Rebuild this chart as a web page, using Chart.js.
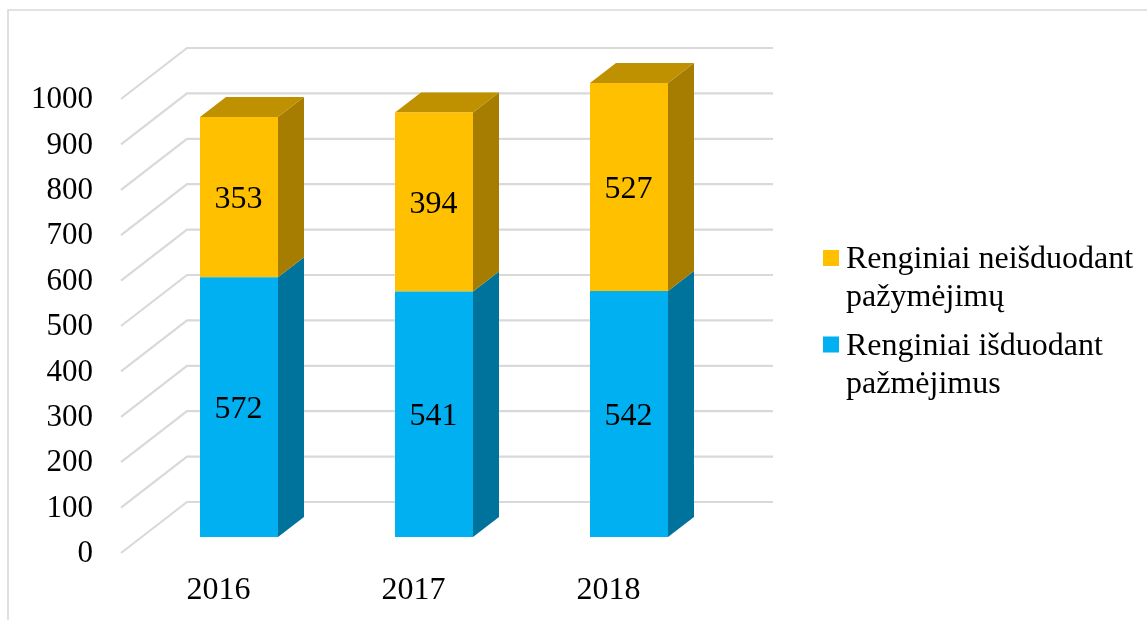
<!DOCTYPE html>
<html>
<head>
<meta charset="utf-8">
<style>
html,body{margin:0;padding:0;background:#fff;overflow:hidden}
canvas{display:block}
</style>
<script src="https://cdn.jsdelivr.net/npm/chart.js@4"></script>
</head>
<body>
<canvas id="c" width="1147" height="620"></canvas>
<script>
const categories = ['2016', '2017', '2018'];
const issuedValues = [572, 541, 542];
const notIssuedValues = [353, 394, 527];
const issuedLabel = ['Renginiai išduodant', 'pažmėjimus'];
const notIssuedLabel = ['Renginiai neišduodant', 'pažymėjimų'];

const FONT = '"Liberation Serif","Times New Roman",serif';
const TXT = '#000000';
const GRID = '#d9d9d9';
const WALL = {dx: 66, dy: -51};      // floor depth, front edge to back wall
const BAR_SHIFT = {dx: 20.5, dy: -16}; // bar front face inside that depth
const BAR_DEPTH = {dx: 26, dy: -20};   // bar's own depth

const threeD = {
  id: 'threeD',
  beforeDatasetsDraw(chart) {
    const {ctx, scales: {x, y}} = chart;
    ctx.save();
    // page frame
    ctx.strokeStyle = GRID; ctx.lineWidth = 1.6;
    ctx.beginPath(); ctx.moveTo(8, 620); ctx.lineTo(8, 10); ctx.lineTo(1147, 10); ctx.stroke();
    // walls
    y.ticks.forEach(t => {
      const py = y.getPixelForValue(t.value);
      ctx.beginPath();
      ctx.moveTo(x.left, py);
      ctx.lineTo(x.left + WALL.dx, py + WALL.dy);
      ctx.lineTo(x.right + WALL.dx + 1, py + WALL.dy);
      ctx.lineWidth = 2.2; ctx.strokeStyle = GRID; ctx.stroke();
    });
    // side and top faces
    chart.data.datasets.forEach((ds, di) => {
      chart.getDatasetMeta(di).data.forEach(bar => {
        const top = Math.max(bar.y, y.top) + BAR_SHIFT.dy;
        const base = bar.base + BAR_SHIFT.dy;
        const l = bar.x - bar.width / 2 + BAR_SHIFT.dx;
        const r = bar.x + bar.width / 2 + BAR_SHIFT.dx;
        ctx.fillStyle = ds.sideColor;
        ctx.beginPath();
        ctx.moveTo(r, top); ctx.lineTo(r + BAR_DEPTH.dx, top + BAR_DEPTH.dy);
        ctx.lineTo(r + BAR_DEPTH.dx, base + BAR_DEPTH.dy); ctx.lineTo(r, base);
        ctx.closePath(); ctx.fill();
        if (di === chart.data.datasets.length - 1) {
          ctx.fillStyle = ds.topColor;
          ctx.beginPath();
          ctx.moveTo(l, top); ctx.lineTo(l + BAR_DEPTH.dx, top + BAR_DEPTH.dy);
          ctx.lineTo(r + BAR_DEPTH.dx, top + BAR_DEPTH.dy); ctx.lineTo(r, top);
          ctx.closePath(); ctx.fill();
        }
      });
    });
    ctx.restore();
  },
  beforeDatasetDraw(chart) {
    chart.ctx.save();
    chart.ctx.translate(BAR_SHIFT.dx, BAR_SHIFT.dy);
  },
  afterDatasetDraw(chart) {
    chart.ctx.restore();
  },
  afterDatasetsDraw(chart) {
    const {ctx, scales: {y}} = chart;
    ctx.save();
    // value labels
    ctx.font = '32px ' + FONT;
    ctx.fillStyle = TXT;
    ctx.textAlign = 'center';
    ctx.textBaseline = 'middle';
    chart.data.datasets.forEach((ds, di) => {
      chart.getDatasetMeta(di).data.forEach((bar, i) => {
        const top = Math.max(bar.y, y.top);
        ctx.fillText(String(ds.data[i]), bar.x + BAR_SHIFT.dx - 0.5, (top + bar.base) / 2 + BAR_SHIFT.dy + 2.5);
      });
    });
    // legend
    ctx.textAlign = 'left';
    ctx.textBaseline = 'alphabetic';
    const order = chart.data.datasets.slice().reverse();
    order.forEach((ds, n) => {
      const base = 268 + n * 86.5;
      ctx.fillStyle = ds.backgroundColor;
      ctx.fillRect(823, base - 18, 16, 16);
      ctx.fillStyle = TXT;
      ds.label.forEach((line, k) => ctx.fillText(line, 846, base + k * 38));
    });
    ctx.restore();
  }
};

new Chart(document.getElementById('c'), {
  type: 'bar',
  plugins: [threeD],
  data: {
    labels: categories,
    datasets: [
      {label: issuedLabel, data: issuedValues, backgroundColor: '#00B0F0', sideColor: '#00739D', topColor: '#008BBD', borderWidth: 0},
      {label: notIssuedLabel, data: notIssuedValues, backgroundColor: '#FFC000', sideColor: '#A67D00', topColor: '#BF9000', borderWidth: 0}
    ]
  },
  options: {
    responsive: false,
    animation: false,
    layout: {padding: {left: 0, top: 99, right: 441, bottom: 0}},
    plugins: {legend: {display: false}, tooltip: {enabled: false}},
    datasets: {bar: {categoryPercentage: 1, barPercentage: 0.4}},
    scales: {
      x: {
        stacked: true,
        grid: {display: false, drawTicks: false},
        border: {display: false},
        ticks: {color: TXT, font: {family: FONT, size: 32}, padding: 18, maxRotation: 0, autoSkip: false},
        afterFit(s) { s.height = 67; }
      },
      y: {
        stacked: true,
        min: 0, max: 1000,
        grid: {display: false, drawTicks: false},
        border: {display: false},
        ticks: {stepSize: 100, color: TXT, font: {family: FONT, size: 31}, padding: 28, labelOffset: 1, callback: v => String(v)},
        afterFit(s) { s.width = 121; }
      }
    }
  }
});
</script>
</body>
</html>
